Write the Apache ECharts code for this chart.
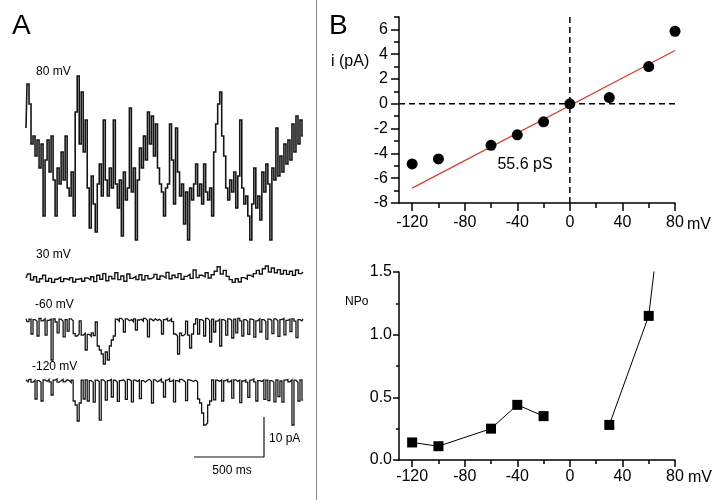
<!DOCTYPE html>
<html><head><meta charset="utf-8">
<script src="https://cdn.jsdelivr.net/npm/echarts@6/dist/echarts.min.js"></script>
<style>html,body{margin:0;padding:0;background:#fff}#c{width:725px;height:500px}</style>
</head><body><div id="c"></div><script>
// ---- Panel B data ----
const ivVoltage = [-120, -100, -60, -40, -20, 0, 30, 60, 80];
const ivCurrent = [-4.85, -4.45, -3.35, -2.5, -1.45, 0, 0.5, 3.0, 5.85];
const fitVoltage = [-120, 80];
const fitCurrent = [-6.8, 4.3];
const npoVoltage = [-120, -100, -60, -40, -20, 0, 30, 60, 80];
const npoValue = [0.14, 0.11, 0.25, 0.44, 0.35, null, 0.28, 1.15, 2.9];
const xTickLabels = [-120, -80, -40, 0, 40, 80];
const xMinorTicks = [-100, -60, -20, 20, 60];
const ivTickLabels = [-8, -6, -4, -2, 0, 2, 4, 6];
const ivMinorTicks = [-7, -5, -3, -1, 1, 3, 5, 7];
const npoTickLabels = [0, 0.5, 1.0, 1.5];
const npoMinorTicks = [0.25, 0.75, 1.25];
const conductanceText = '55.6 pS';
// ---- Panel A data (pA, relative to closed level; uniform sampling over ~2 s) ----
const traceLabels = ['80 mV', '30 mV', '-60 mV', '-120 mV'];
const trace80 = [16,27,22,12,14,9,13,6,12,-6,8,13,5,14,3,-6,6,2,10,3,14,1,-1,5,-6,
  20,29,12,25,10,18,1,-9,4,-3,-10,2,7,-1,18,3,-1,6,1,18,2,-4,3,-11,5,
  -2,1,21,0,6,-12,3,11,6,14,8,20,12,19,9,17,6,2,0,-6,1,2,17,8,-3,
  16,5,-1,2,-8,0,-12,1,-2,2,7,-1,2,-3,7,0,-2,1,-6,10,17,22,25,14,9,1,-2,
  3,0,5,-4,4,18,1,-3,-1,-6,-12,-3,6,-4,-1,-7,5,0,7,2,-12,6,3,16,4,9,
  5,12,7,13,8,17,10,19,12,18,14];
const trace30 = [0.5,1.5,0,0.8,-0.5,0.3,1.2,-0.3,0.4,-0.6,
  0.2,0.7,-0.4,0.3,0,0.6,-0.5,0.2,0.4,-0.3,
  0.5,0,0.8,-0.4,1.2,0.2,1.6,-0.2,0.9,0.3,
  1.8,0.1,1.0,-0.3,1.5,0.4,0.9,0.1,1.3,0.0,
  1.1,0.3,0.7,1.4,0.2,1.0,0.5,1.9,0.3,1.2,
  0.6,1.6,0.2,0.9,1.4,0.4,2.5,0.6,1.2,0.8,
  1.8,0.5,1.3,2.2,3.3,1.5,2.4,0.9,0.1,-0.6,
  0.3,-0.5,0.6,0.2,1.2,0.8,1.6,2.4,1.5,2.8,
  3.5,2.0,3.0,1.8,2.6,1.5,2.4,1.4,2.2,1.2,2.5,1.6,2.0];
const traceM60 = [0.3,-0.4,0.2,-3.5,0.1,-0.3,-4.0,0.4,-0.2,0.3,-3.8,-0.1,0.2,-10,0.3,-0.5,-3.2,0.2,-0.3,-4.2,0.1,-2.8,0.3,-0.2,
  -3.4,-4.0,-3.5,-0.2,-3.8,-3.3,-7.5,-3.6,-4.1,-3.2,-3.9,-0.5,
  -6.5,-7.5,-8.5,-11,-8,-10,-6.5,-5,-4,
  0.2,-0.3,0.4,-0.1,-3.0,0.3,-0.2,0.1,-0.4,0.3,-2.5,0,0.2,-0.3,0.4,-0.1,-4.2,0.2,-0.2,0.3,-0.1,0.2,-0.3,-3.5,0.1,0.4,-0.2,0.3,-0.4,
  -3.5,-4.0,-8.5,-3.3,-3.9,-3.4,-0.3,-3.8,-7.0,-3.5,-1.0,
  0.3,-3.5,0.1,-0.2,-4.0,0.4,-0.1,-5.5,0.2,-3.0,-0.3,0.2,-6.5,0.1,-0.2,-3.8,0.3,-0.1,-4.5,0.2,
  -3.2,0.4,-0.2,-4.0,0.1,-0.3,-3.6,0.2,0,-4.3,-0.2,0.3,-3.0,0.1,-0.4,-4.8,0.2,-0.1,-3.4,0.3,
  -0.2,-4.1,0.1,0.4,-3.7,-0.1,0.2,-2.9,0.3,-0.3,-4.4,0.1,-0.2,0.2];
const traceM120 = [0.3,-0.2,0.4,-0.3,0.2,-4.5,0.1,-0.3,-5.0,0.3,-0.1,0.4,-0.2,-3.5,0.2,0.5,-0.3,0.1,0.4,-0.2,0.3,0.1,-0.4,0.2,
  -5,-6,-10,-5.5,0.2,-4.5,
  0.3,-5.0,0.1,-0.3,-5.3,0.2,-0.1,-9.8,0.3,-0.2,-4.8,0.1,0.4,-4.0,0.2,-0.3,-5.1,0.1,0.3,-0.2,-4.6,0.4,0.0,-5.2,0.2,-0.1,0.3,-4.4,0.1,-0.3,
  0.2,0.4,-0.1,-5.5,0.3,-0.2,0.1,0.5,-0.3,-4.0,0.2,0.6,-0.1,0.3,-5.2,0.1,-0.2,0.4,0.2,-0.3,-4.9,0.3,0.1,-0.1,0.2,
  -0.2,-4.5,-5.5,-8,-11,-10.5,-6,-5,0.3,
  -4.7,0.2,-0.1,0.3,-5.0,0.1,0.4,-0.2,0.2,-4.3,
  0.3,-0.1,0.2,-5.4,0.0,0.3,-0.3,-4.1,0.2,0.5,
  -0.2,-5.0,0.1,-0.1,0.3,-4.6,0.2,-4.9,0.1,-0.3,
  -5.2,0.3,-3.9,0.0,-5.3,0.2,0.4,-0.2,0.3,-11,
  0.2,-0.3,-5.0,0.3,-4.8];
const scaleBarTime = 500;   // ms
const scaleBarCurrent = 10; // pA

const FONT = 'Liberation Sans, Arial, sans-serif';
const chart = echarts.init(document.getElementById('c'), null, {renderer: 'canvas'});

function mainX(gi, len, margin) {
  return [{
    gridIndex: gi, type: 'value', min: -130, max: 80,
    axisLine: {onZero: false, lineStyle: {color: '#000', width: 1.5}},
    axisTick: {customValues: xTickLabels, length: len, lineStyle: {color: '#000', width: 1.5}},
    axisLabel: {customValues: xTickLabels, margin: margin, fontSize: 16, color: '#000', fontFamily: FONT},
    splitLine: {show: false}
  }, {
    gridIndex: gi, type: 'value', min: -130, max: 80, position: 'bottom',
    axisLine: {show: false, onZero: false},
    axisTick: {customValues: xMinorTicks, length: len - 3, lineStyle: {color: '#000', width: 1.5}},
    axisLabel: {show: false}, splitLine: {show: false}
  }];
}
function mainY(gi, min, max, labels, minors, len, margin, fmt) {
  return [{
    gridIndex: gi, type: 'value', min: min, max: max,
    axisLine: {show: true, onZero: false, lineStyle: {color: '#000', width: 1.5}},
    axisTick: {show: true, customValues: labels, length: len, lineStyle: {color: '#000', width: 1.5}},
    axisLabel: {customValues: labels, margin: margin, fontSize: 16, color: '#000', fontFamily: FONT, formatter: fmt},
    splitLine: {show: false}
  }, {
    gridIndex: gi, type: 'value', min: min, max: max, position: 'left',
    axisLine: {show: false, onZero: false},
    axisTick: {show: true, customValues: minors, length: len - 3, lineStyle: {color: '#000', width: 1.5}},
    axisLabel: {show: false}, splitLine: {show: false}
  }];
}
function hiddenAxis(gi, min, max) {
  return {gridIndex: gi, type: 'value', min: min, max: max, show: false, splitLine: {show: false}};
}
const traceWidths = [1.6, 1.4, 1.3, 1.3];
function traceSeries(arr, ai, w) {
  return {
    type: 'line', xAxisIndex: ai, yAxisIndex: ai, step: 'middle',
    data: arr.map((v, i) => [i, v]), showSymbol: false, symbol: 'none',
    lineStyle: {color: '#151515', width: w, join: 'miter'}, silent: true
  };
}
const traces = [trace80, trace30, traceM60, traceM120];
const traceGrids = [
  {left: 26, top: 70, width: 277, height: 180, yMin: -14.5, yMax: 30.5},
  {left: 26, top: 260, width: 277, height: 40, yMin: -5, yMax: 5},
  {left: 26, top: 300, width: 277, height: 80, yMin: -15, yMax: 5},
  {left: 26, top: 360, width: 277, height: 80, yMin: -14.75, yMax: 5.25}
];

const xAxes = [...mainX(0, 8, 12), ...mainX(1, 7, 9)];
const yAxes = [
  ...mainY(0, -8, 7, ivTickLabels, ivMinorTicks, 8, 11, v => String(v)),
  ...mainY(1, 0, 1.5, npoTickLabels, npoMinorTicks, 6, 7, v => v.toFixed(1))
];
traceGrids.forEach((g, k) => {
  xAxes.push(hiddenAxis(2 + k, 0, traces[k].length - 1));
  yAxes.push(hiddenAxis(2 + k, g.yMin, g.yMax));
});
xAxes.push(hiddenAxis(6, 0, scaleBarTime));
yAxes.push(hiddenAxis(6, 0, scaleBarCurrent));

const dash = {color: '#000', width: 1.5, type: [6, 4]};
const series = [
  {type: 'line', xAxisIndex: 0, yAxisIndex: 0, data: [[0, -8], [0, 7]], symbol: 'none', lineStyle: dash, silent: true},
  {type: 'line', xAxisIndex: 0, yAxisIndex: 0, data: [[-130, 0], [80, 0]], symbol: 'none', lineStyle: dash, silent: true},
  {type: 'line', xAxisIndex: 0, yAxisIndex: 0, data: fitVoltage.map((v, i) => [v, fitCurrent[i]]), symbol: 'none',
   lineStyle: {color: '#dc3a2e', width: 1.2}, silent: true},
  {type: 'scatter', xAxisIndex: 0, yAxisIndex: 0, data: ivVoltage.map((v, i) => [v, ivCurrent[i]]),
   symbol: 'circle', symbolSize: 11, itemStyle: {color: '#000', opacity: 1}, silent: true, z: 5},
  {type: 'line', xAxisIndex: 2, yAxisIndex: 2, data: npoVoltage.map((v, i) => [v, npoValue[i] === null ? '-' : npoValue[i]]),
   symbol: 'rect', symbolSize: 10, showSymbol: true, connectNulls: false, clip: true,
   itemStyle: {color: '#000', opacity: 1}, lineStyle: {color: '#000', width: 1}, silent: true}
];
traces.forEach((t, k) => series.push(traceSeries(t, 4 + k, traceWidths[k])));
series.push({type: 'line', xAxisIndex: 8, yAxisIndex: 8, clip: false, symbol: 'none',
  data: [[0, 0], [scaleBarTime, 0], [scaleBarTime, scaleBarCurrent]],
  lineStyle: {color: '#111', width: 1.2}, silent: true});

function txt(text, x, y, size, align, extra) {
  return Object.assign({type: 'text', x: x, y: y, silent: true,
    style: {text: text, fontSize: size, fontFamily: FONT, fill: '#000',
      textAlign: align || 'left', textVerticalAlign: 'middle', align: align || 'left', verticalAlign: 'middle'}}, extra || {});
}
const traceLabelPos = [[36, 72], [36, 255], [35, 305], [32, 367]];
const graphics = [
  {type: 'line', silent: true, shape: {x1: 316.5, y1: 0, x2: 316.5, y2: 500}, style: {stroke: '#8a8a8a', lineWidth: 1}},
  txt('A', 12, 26, 28),
  txt('B', 329, 26, 28),
  txt('i (pA)', 331, 62, 16),
  txt(conductanceText, 525, 165, 16, 'center'),
  txt('mV', 687, 225, 16),
  txt('mV', 688, 478, 16),
  txt('NPo', 345, 302, 12),
  txt(scaleBarCurrent + ' pA', 269, 439, 12),
  txt(scaleBarTime + ' ms', 232, 471, 12, 'center')
];
traceLabels.forEach((l, k) => graphics.push(txt(l, traceLabelPos[k][0], traceLabelPos[k][1], 12)));

chart.setOption({
  animation: false,
  backgroundColor: '#fff',
  grid: [
    {left: 399, top: 17, width: 276, height: 186},
    {left: 399, top: 272, width: 276, height: 188},
    ...traceGrids.map(g => ({left: g.left, top: g.top, width: g.width, height: g.height})),
    {left: 194, top: 417, width: 70, height: 40}
  ],
  xAxis: xAxes,
  yAxis: yAxes,
  series: series,
  graphic: graphics
});
</script></body></html>
